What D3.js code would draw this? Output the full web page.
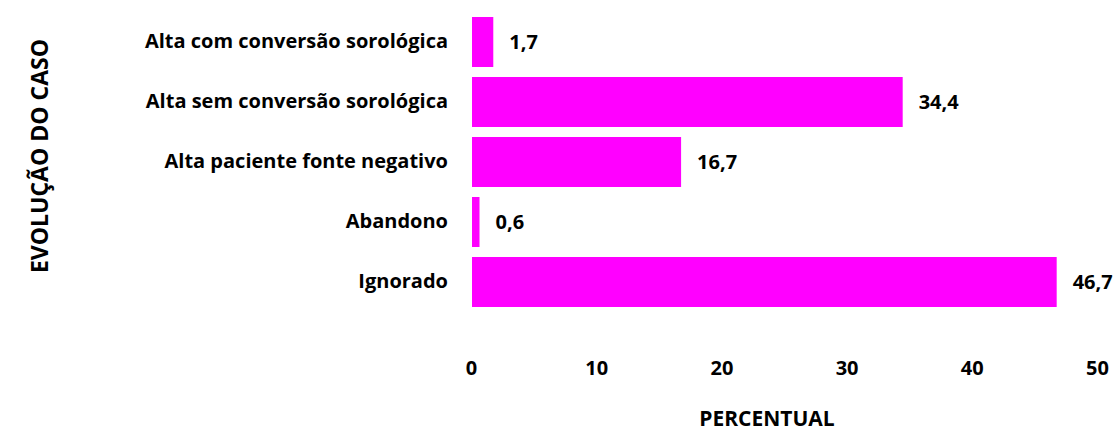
<!DOCTYPE html>
<html>
<head>
<meta charset="utf-8">
<script src="https://cdn.jsdelivr.net/npm/d3@7"></script>
<style>
  body { margin: 0; background: #fff; }
  text { font-family: "Open Sans", "Noto Sans", sans-serif; font-weight: bold; fill: #000; }
</style>
</head>
<body>
<div id="chart"></div>
<script>
var categories = ["Alta com conversão sorológica", "Alta sem conversão sorológica", "Alta paciente fonte negativo", "Abandono", "Ignorado"];
var values = [1.7, 34.4, 16.7, 0.6, 46.7];
var ticks = [0, 10, 20, 30, 40, 50];

var width = 1118, height = 432;

var svg = d3.select("#chart").append("svg")
  .attr("width", width)
  .attr("height", height);

var x = d3.scaleLinear().domain([0, 50]).range([472, 1098]);
var y = d3.scaleBand().domain(categories).range([12, 312]).paddingInner(1/6).paddingOuter(1/12);

// bars
svg.selectAll(".bar")
  .data(values)
  .enter()
  .append("rect")
  .attr("class", "bar")
  .attr("x", x(0))
  .attr("y", function(d, i){ return y(categories[i]); })
  .attr("width", function(d){ return x(d) - x(0); })
  .attr("height", y.bandwidth())
  .style("fill", "#FF00FF");

// value labels
svg.selectAll(".val")
  .data(values)
  .enter()
  .append("text")
  .attr("class", "val")
  .attr("x", function(d){ return x(d) + 16; })
  .attr("y", function(d, i){ return y(categories[i]) + y.bandwidth()/2; })
  .attr("dy", "0.35em")
  .style("font-size", "20px")
  .text(function(d){ return String(d).replace(".", ","); });

// category axis
var yAxis = d3.axisLeft(y).tickSize(0).tickPadding(24);
var yg = svg.append("g")
  .attr("transform", "translate(" + x(0) + ",0)")
  .call(yAxis);
yg.select(".domain").remove();
yg.selectAll("text").style("font-size", "20px");

// value axis
var xAxis = d3.axisBottom(x).tickValues(ticks).tickSize(0).tickPadding(0);
var xg = svg.append("g")
  .attr("transform", "translate(-1,361)")
  .call(xAxis);
xg.select(".domain").remove();
xg.selectAll("text").style("font-size", "20px");

// titles
svg.append("text")
  .attr("x", 767)
  .attr("y", 426)
  .attr("text-anchor", "middle")
  .style("font-size", "21px")
  .text("PERCENTUAL");

svg.append("text")
  .attr("transform", "translate(40,156) rotate(-90)")
  .attr("text-anchor", "middle")
  .attr("dy", "0.35em")
  .style("font-size", "23px")
  .text("EVOLUÇÃO DO CASO");
</script>
</body>
</html>
